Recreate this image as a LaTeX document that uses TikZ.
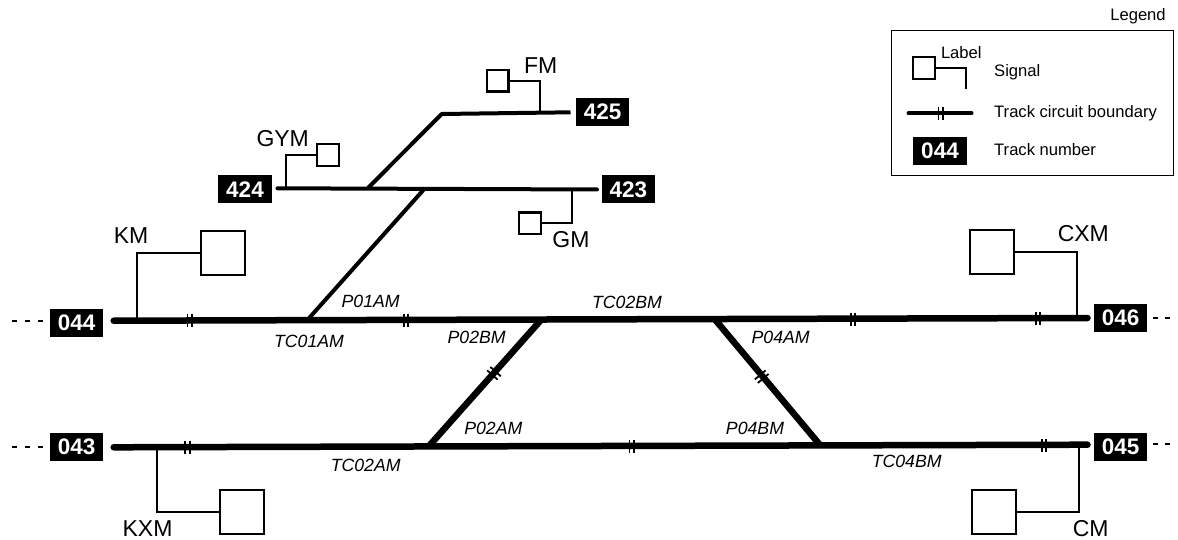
\documentclass[tikz,border=0pt]{standalone}
\usepackage{fontspec}
\setmainfont{Liberation Sans}
\tikzset{x=1pt,y=-1pt,
 sig/.style={draw=black,line width=2.2pt,fill=white,minimum size=#1,inner sep=0pt,outer sep=0pt},
 stem/.style={line width=2.2pt,line join=miter},
 num/.style={fill=black,text=white,font=\fontsize{22.5}{22.5}\selectfont\bfseries,minimum width=53.3pt,minimum height=28pt,inner sep=0pt},
 track/.style={line width=6.5pt,line cap=round},
 spur/.style={line width=4pt,line cap=round},
 tick/.style={line width=1.8pt},
 tlab/.style={font=\fontsize{17.7}{17.7}\selectfont\itshape,inner sep=0pt},
 slab/.style={font=\fontsize{23}{23}\selectfont,inner sep=0pt},
 leg/.style={font=\fontsize{16.6}{16.6}\selectfont,inner sep=0pt,anchor=west},
 dotsl/.style={line width=1.8pt,dash pattern=on 5pt off 8pt},
 dotsr/.style={line width=1.8pt,dash pattern=on 5pt off 7pt,dash phase=6.3pt}}
\newcommand{\tb}[2]{\draw[tick] (#1-2.3,#2-6.5) -- (#1-2.3,#2+6.5); \draw[tick] (#1+2.3,#2-6.5) -- (#1+2.3,#2+6.5);}
% centre x, centre y, along x, along y (unit vector along the track)
\newcommand{\dtb}[4]{%
 \draw[tick] ({#1+2.3*(#3)-7*(#4)},{#2+2.3*(#4)+7*(#3)}) -- ({#1+2.3*(#3)+7*(#4)},{#2+2.3*(#4)-7*(#3)});
 \draw[tick] ({#1-2.3*(#3)-7*(#4)},{#2-2.3*(#4)+7*(#3)}) -- ({#1-2.3*(#3)+7*(#4)},{#2-2.3*(#4)-7*(#3)});}
\begin{document}
\begin{tikzpicture}
\useasboundingbox (0,0) rectangle (1178,540);
% number boxes
\node[num] (n044) at (76.7,322.8) {044};
\node[num] (n043) at (76.7,447) {043};
\node[num] (n046) at (1120.7,317.7) {046};
\node[num] (n045) at (1120.7,447) {045};
\node[num] (n424) at (245,189.3) {424};
\node[num] (n425) at (602.7,112.2) {425};
\node[num] (n423) at (628.3,189.5) {423};
% junction coordinates
\coordinate (a) at (113.7,320.7);
\coordinate (b) at (1087.5,318);
\coordinate (c) at (113.7,447.3);
\coordinate (d) at (1087.5,444.7);
\coordinate (sw1) at (541,320);
\coordinate (sw2) at (429,446);
\coordinate (sw3) at (715,319.5);
\coordinate (sw4) at (820,445);
\coordinate (up) at (308.3,319);
\coordinate (j1) at (424,189.3);
\coordinate (j2) at (368,188);
\coordinate (k) at (441.7,114);
\coordinate (e) at (277.5,188.3);
\coordinate (f) at (597,189.5);
\coordinate (g) at (570.5,112.3);
% tracks
\draw[track] (a) -- (b);
\draw[track] (c) -- (d);
\draw[line width=6.5pt] (sw1) -- (sw2);
\draw[line width=6.5pt] (sw3) -- (sw4);
\draw[spur,line cap=butt] (up) -- (j1);
\draw[spur] (e) -- (f);
\draw[spur,line join=bevel,line cap=butt] (j2) -- (k) -- (g);
% ticks
\tb{189.7}{320.5}\tb{406}{320.3}\tb{853}{319}\tb{1038}{318.3}
\tb{187.3}{447.2}\tb{631.7}{446}\tb{1044}{445}
\dtb{494}{373.3}{0.664}{-0.747}
\dtb{761.7}{376.7}{0.643}{0.766}
% dashes
\coordinate (da) at (12,320.7);\coordinate (db) at (12,447);
\coordinate (dc) at (1170,318);\coordinate (dd) at (1170,444);
\draw[dotsl] (da) -- (n044.west |- da);
\draw[dotsl] (db) -- (n043.west |- db);
\draw[dotsr] (n046.east |- dc) -- (dc);
\draw[dotsr] (n045.east |- dd) -- (dd);
% signals
\node[sig=44pt] (KMs) at (223,253.3) {};
\coordinate (KMt) at (137.3,320);
\draw[stem] (KMt) |- (KMs.west);
\node[slab] (KM) at (131,235.7) {KM};
\node[sig=44pt] (CXMs) at (992.3,252) {};
\coordinate (CXMt) at (1077.3,318);
\draw[stem] (CXMt) |- (CXMs.east);
\node[slab] (CXM) at (1083.3,234) {CXM};
\node[sig=44pt] (KXMs) at (242.3,512.3) {};
\coordinate (KXMt) at (156.7,447);
\draw[stem] (KXMt) |- (KXMs.west);
\node[slab] (KXM) at (147.5,529) {KXM};
\node[sig=44pt] (CMs) at (993.7,512.3) {};
\coordinate (CMt) at (1079.3,445);
\draw[stem] (CMt) |- (CMs.east);
\node[slab] (CM) at (1090.7,529) {CM};
\node[sig=21.5pt] (FMs) at (497.7,80.7) {};
\coordinate (FMt) at (540,113);
\draw[stem] (FMt) |- (FMs.east);
\node[slab] (FM) at (540.7,65.7) {FM};
\node[sig=21.5pt] (GYMs) at (328,155) {};
\coordinate (GYMt) at (285.7,188);
\draw[stem] (GYMt) |- (GYMs.west);
\node[slab] (GYM) at (282.7,138.3) {GYM};
\node[sig=21.5pt] (GMs) at (530,223.3) {};
\coordinate (GMt) at (572,189.5);
\draw[stem] (GMt) |- (GMs.east);
\node[slab] (GM) at (571,239.3) {GM};
% track labels
\node[tlab] (l1) at (370.7,301.7) {P01AM};
\node[tlab] (l2) at (309,341.7) {TC01AM};
\node[tlab] (l3) at (476.7,337.7) {P02BM};
\node[tlab] (l4) at (627,302) {TC02BM};
\node[tlab] (l5) at (780.7,337.7) {P04AM};
\node[tlab] (l6) at (493.3,428.3) {P02AM};
\node[tlab] (l7) at (755,428.3) {P04BM};
\node[tlab] (l8) at (365.7,465) {TC02AM};
\node[tlab] (l9) at (906.7,461.7) {TC04BM};
% legend
\node[font=\fontsize{16.6}{16.6}\selectfont,inner sep=0pt] (legt) at (1138,16.5) {Legend};
\node[draw=black,line width=1.1pt,minimum width=281.6pt,minimum height=145pt,inner sep=0pt] (legbox) at (1032.5,103.2) {};
\node[sig=22pt] (lgs) at (924,67.7) {};
\coordinate (lgt) at (966.3,89.3);
\draw[stem] (lgt) |- (lgs.east);
\node[font=\fontsize{16.6}{16.6}\selectfont,inner sep=0pt] (lgl) at (961.3,52.7) {Label};
\node[leg] (lg1) at (994,72.3) {Signal};
\coordinate (lga) at (908.5,113.3);\coordinate (lgb) at (971.5,113.3);
\draw[line width=4pt,line cap=round] (lga) -- (lgb);
\tb{940.7}{113.2}
\node[leg] (lg2) at (994,113) {Track circuit boundary};
\node[num] (lgn) at (940,150.7) {044};
\node[leg] (lg3) at (994,150) {Track number};
\end{tikzpicture}
\end{document}
